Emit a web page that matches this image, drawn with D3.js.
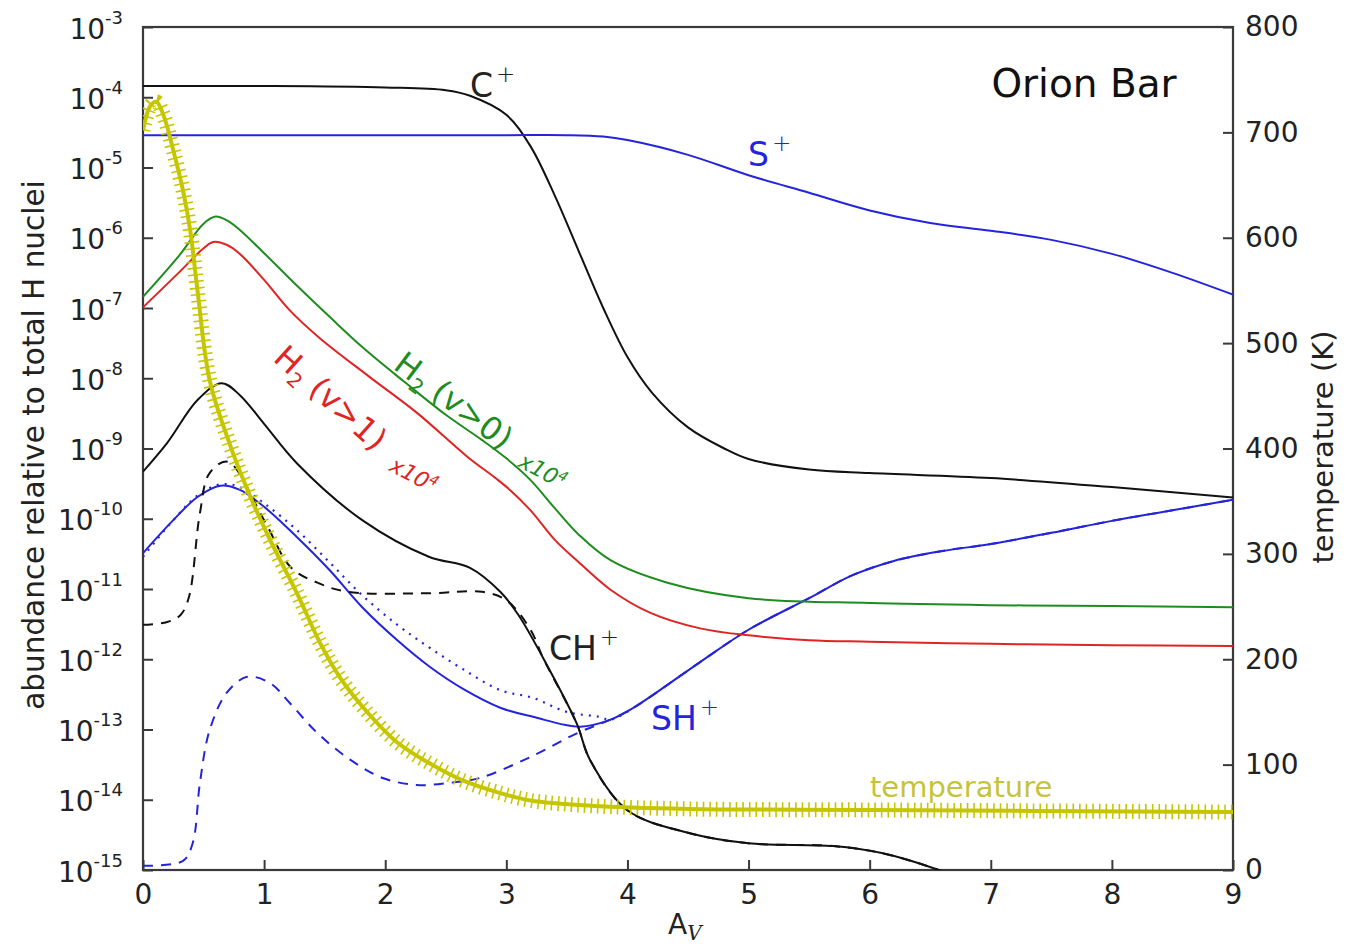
<!DOCTYPE html>
<html><head><meta charset="utf-8">
<script src="https://cdn.jsdelivr.net/npm/d3@7"></script>
<style>body{margin:0;background:#fff}text{font-family:"DejaVu Sans",sans-serif}</style>
</head><body>
<svg id="c" width="1352" height="944"></svg>
<script>
// ---- tick labels ----
const avTicks = [0,1,2,3,4,5,6,7,8,9];
const abundExp = [-15,-14,-13,-12,-11,-10,-9,-8,-7,-6,-5,-4,-3];
const tempTicks = [0,100,200,300,400,500,600,700,800];

// ---- C+ (black solid) ----
const cplusAv  = [0,1,2,2.5,2.7,3.0,3.2,3.4,3.6,3.8,4.0,4.2,4.5,4.8,5.0,5.5,6,7,8,9];
const cplusVal = [1.445e-4,1.445e-4,1.38e-4,1.26e-4,1.05e-4,5.62e-5,2.0e-5,3.98e-6,6.31e-7,1.0e-7,2.0e-8,6.31e-9,2.0e-9,1.0e-9,7.08e-10,5.01e-10,4.47e-10,3.80e-10,2.82e-10,2.0e-10];

// ---- S+ (blue solid) ----
const splusAv  = [0,1,2,3,3.5,3.8,4.0,4.5,5,5.5,6,6.5,7,7.5,8,8.5,9];
const splusVal = [2.884e-5,2.884e-5,2.884e-5,2.884e-5,2.884e-5,2.754e-5,2.455e-5,1.514e-5,7.76e-6,4.37e-6,2.45e-6,1.622e-6,1.259e-6,9.33e-7,5.89e-7,3.16e-7,1.549e-7];

// ---- H2 (v>0) x1e4 (green) ----
const h2v0Av  = [0,0.3,0.5,0.6,0.7,0.8,1.0,1.3,1.55,1.82,2.15,2.5,2.8,3.0,3.2,3.4,3.6,3.86,4.33,5,6,7,8,9];
const h2v0Val = [1.445e-7,5.62e-7,1.585e-6,2.0e-6,1.738e-6,1.288e-6,6.03e-7,1.862e-7,7.24e-8,2.69e-8,9.12e-9,3.02e-9,1.318e-9,7.24e-10,3.55e-10,1.413e-10,5.89e-11,2.57e-11,1.23e-11,7.41e-12,6.31e-12,5.89e-12,5.75e-12,5.50e-12];

// ---- H2 (v>1) x1e4 (red) ----
const h2v1Av  = [0,0.3,0.5,0.58,0.69,0.8,1.0,1.21,1.46,1.87,2.26,2.68,2.91,3.03,3.2,3.4,3.58,3.86,4.19,4.6,5,5.5,6,7,8,9];
const h2v1Val = [1.023e-7,3.24e-7,7.08e-7,8.71e-7,7.94e-7,5.89e-7,2.51e-7,9.33e-8,3.72e-8,1.047e-8,3.24e-9,7.59e-10,3.80e-10,2.57e-10,1.318e-10,5.01e-11,2.57e-11,9.77e-12,4.57e-12,2.75e-12,2.19e-12,1.862e-12,1.778e-12,1.66e-12,1.585e-12,1.549e-12];

// ---- CH+ (black solid) ----
const chAv  = [0,0.2,0.45,0.65,0.8,1.0,1.27,1.81,2.36,2.7,2.95,3.1,3.3,3.58,3.69,4.0,4.5,5,5.7,6.1,6.57,7];
const chVal = [4.68e-10,1.202e-9,4.90e-9,8.51e-9,5.75e-9,2.24e-9,6.17e-10,9.55e-11,2.88e-11,2.0e-11,9.12e-12,4.27e-12,1.072e-12,1.23e-13,3.72e-14,7.08e-15,3.39e-15,2.40e-15,2.19e-15,1.74e-15,1.0e-15,5.0e-16];

// ---- CH+ (black dashed) ----
const chDashAv  = [0,0.2,0.31,0.38,0.47,0.55,0.7,1.0,1.22,1.44,1.69,2.37,2.8,3.0,3.2,3.3,3.58,3.69,4.0,4.5,5,5.7,6.1,6.57,7];
const chDashVal = [3.09e-12,3.39e-12,4.27e-12,7.76e-12,1.202e-10,4.47e-10,6.46e-10,9.55e-11,2.04e-11,1.23e-11,9.12e-12,8.71e-12,9.12e-12,6.92e-12,2.63e-12,1.072e-12,1.23e-13,3.72e-14,7.08e-15,3.39e-15,2.40e-15,2.19e-15,1.74e-15,1.0e-15,5.0e-16];

// ---- SH+ (blue solid) ----
const shAv  = [0,0.25,0.45,0.64,0.8,1.0,1.27,1.54,1.81,2.1,2.37,2.65,2.95,3.22,3.61,3.86,4.05,4.6,5.0,5.5,5.85,6.2,6.6,7.0,7.5,8.0,8.5,9.0];
const shVal = [3.24e-11,9.55e-11,2.04e-10,2.95e-10,2.57e-10,1.479e-10,5.50e-11,1.862e-11,5.50e-12,1.862e-12,7.76e-13,3.72e-13,2.04e-13,1.514e-13,1.096e-13,1.38e-13,2.04e-13,9.12e-13,2.63e-12,7.41e-12,1.549e-11,2.51e-11,3.47e-11,4.37e-11,6.31e-11,9.33e-11,1.318e-10,1.862e-10];

// ---- SH+ (blue dotted) ----
const shDotAv  = [0,0.25,0.45,0.64,0.8,1.0,1.27,1.54,1.81,2.1,2.37,2.65,2.95,3.22,3.5,3.77,3.86,4.05];
const shDotVal = [2.88e-11,9.55e-11,2.14e-10,3.09e-10,2.82e-10,1.66e-10,6.92e-11,2.40e-11,8.13e-12,3.09e-12,1.445e-12,7.08e-13,3.63e-13,2.82e-13,1.778e-13,1.514e-13,1.38e-13,2.04e-13];

// ---- SH+ (blue dashed) ----
const shDashAv  = [0,0.33,0.41,0.47,0.55,0.69,0.86,1.05,1.21,1.44,1.71,1.98,2.26,2.53,2.78,3.2,3.6,3.86,4.05,4.6,5.0,5.5,5.85,6.2,6.6,7.0,7.5,8.0,8.5,9.0];
const shDashVal = [1.148e-15,1.349e-15,2.40e-15,1.738e-14,9.77e-14,3.31e-13,5.62e-13,4.57e-13,2.40e-13,8.91e-14,3.72e-14,2.04e-14,1.622e-14,1.738e-14,2.04e-14,4.07e-14,9.12e-14,1.38e-13,2.04e-13,9.12e-13,2.63e-12,7.41e-12,1.549e-11,2.51e-11,3.47e-11,4.37e-11,6.31e-11,9.33e-11,1.318e-10,1.862e-10];

// ---- temperature (K, right axis) ----
const tempAv  = [0,0.06,0.11,0.17,0.25,0.33,0.39,0.45,0.55,0.72,0.88,1.05,1.27,1.46,1.63,1.82,2.1,2.37,2.64,2.95,3.2,3.7,4.5,6,9];
const tempVal = [702,725,729,716,683,645,607,550,465,403,356,313,263,216,182,154,121,101,85,73,66,61,58,57,55];

const svg = d3.select("#c");
const L=143, R=1233, T=27, B=870;
const x  = d3.scaleLinear().domain([0,9]).range([L,R]);
const y  = d3.scaleLog().domain([1e-15,1e-3]).range([B,T]);
const yT = d3.scaleLinear().domain([0,800]).range([B,T]);

svg.append("defs").append("clipPath").attr("id","clip")
  .append("rect").attr("x",L).attr("y",T).attr("width",R-L).attr("height",B-T);

const axisCol = "#3a3a3a", fs = 28;

// left axis
const gl = svg.append("g").attr("transform",`translate(${L},0)`)
  .call(d3.axisLeft(y).tickValues(abundExp.map(e=>Math.pow(10,e))).tickSize(-10).tickFormat(()=>""));
gl.select(".domain").remove();
gl.selectAll(".tick line").attr("stroke",axisCol).attr("stroke-width",2);
gl.selectAll(".tick").each(function(d,i){
  const t = d3.select(this).append("text").attr("x",-20).attr("y",11).attr("fill","#222")
    .attr("text-anchor","end").style("font-size",fs+"px");
  t.append("tspan").text("10");
  t.append("tspan").attr("dy",-15).style("font-size","18px").text(String(abundExp[i]));
});

// right axis
const gr = svg.append("g").attr("transform",`translate(${R},0)`)
  .call(d3.axisRight(yT).tickValues(tempTicks).tickSize(-10).tickPadding(12));
gr.select(".domain").remove();
gr.selectAll(".tick line").attr("stroke",axisCol).attr("stroke-width",2);
gr.selectAll(".tick text").attr("fill","#222").style("font-size",fs+"px").attr("x",12);

// bottom axis
const gb = svg.append("g").attr("transform",`translate(0,${B})`)
  .call(d3.axisBottom(x).tickValues(avTicks).tickSize(-10).tickPadding(14).tickFormat(d3.format("d")));
gb.select(".domain").remove();
gb.selectAll(".tick line").attr("stroke",axisCol).attr("stroke-width",2);
gb.selectAll(".tick text").attr("fill","#222").style("font-size",fs+"px");

// frame
svg.append("rect").attr("x",L).attr("y",T).attr("width",R-L).attr("height",B-T)
  .attr("fill","none").attr("stroke",axisCol).attr("stroke-width",2.2);

// axis titles
svg.append("text").attr("transform","translate(44,445) rotate(-90)").attr("text-anchor","middle")
  .attr("fill","#222").style("font-size","29.5px").text("abundance relative to total H nuclei");
svg.append("text").attr("transform","translate(1333,447) rotate(-90)").attr("text-anchor","middle")
  .attr("fill","#222").style("font-size","29px").text("temperature (K)");
const ax = svg.append("text").attr("x",668).attr("y",934).attr("fill","#222").style("font-size","28px");
ax.append("tspan").text("A");
ax.append("tspan").attr("dy",6).style("font-size","20px").style("font-style","italic")
  .style("font-family","'DejaVu Serif',serif").text("V");

// curves
const plot = svg.append("g").attr("clip-path","url(#clip)");
const curve = d3.curveCatmullRom.alpha(0.5);
const line = d3.line().curve(curve).x(d=>x(d[0])).y(d=>y(d[1]));
const lineT = d3.line().curve(curve).x(d=>x(d[0])).y(d=>yT(d[1]));
const zip = (a,b)=>a.map((v,i)=>[v,b[i]]);

function draw(av,val,color,dash,w){
  plot.append("path").datum(zip(av,val)).attr("d",line).attr("fill","none")
    .attr("stroke",color).attr("stroke-width",w||2).attr("stroke-dasharray",dash||null);
}
const blue="#2424dc", black="#111", green="#1f8c1f", red="#e02424", yel="#c6c600";

draw(shDashAv,shDashVal,blue,"10 8");
draw(shDotAv,shDotVal,blue,"2 6",2.2);
draw(shAv,shVal,blue);
draw(chDashAv,chDashVal,black,"10 8");
draw(chAv,chVal,black);
draw(cplusAv,cplusVal,black);
draw(splusAv,splusVal,blue);
draw(h2v1Av,h2v1Val,red);
draw(h2v0Av,h2v0Val,green);

// temperature drawn with '+' point-marker look
const tdata = zip(tempAv,tempVal);
plot.append("path").datum(tdata).attr("d",lineT).attr("fill","none")
  .attr("stroke",yel).attr("stroke-width",4);
plot.append("path").datum(tdata).attr("d",lineT).attr("fill","none")
  .attr("stroke",yel).attr("stroke-width",15).attr("stroke-dasharray","1.6 5");

// labels
function lab(xp,yp,main,sup,color,size){
  const t = svg.append("text").attr("x",xp).attr("y",yp).attr("fill",color).style("font-size",size+"px");
  t.append("tspan").text(main);
  if(sup){ t.append("tspan").attr("dx",3).attr("dy",-size*0.45).style("font-size",(size*0.7)+"px").style("font-weight","300").text(sup); }
  return t;
}
lab(470,97,"C","+","#222",33);
lab(748,166,"S","+",blue,33);
lab(549,660,"CH","+","#222",33);
lab(651,730,"SH","+",blue,33);
svg.append("text").attr("x",870).attr("y",797).attr("fill","#c4c43a").style("font-size","29px").text("temperature");
svg.append("text").attr("x",1084).attr("y",97).attr("text-anchor","middle").attr("fill","#111").style("font-size","39px").text("Orion Bar");

function h2lab(xp,yp,ang,num,color){
  const t = svg.append("text").attr("transform",`translate(${xp},${yp}) rotate(${ang})`)
    .attr("fill",color).style("font-size","32px");
  t.append("tspan").text("H");
  t.append("tspan").attr("dy",7).style("font-size","20px").text("2");
  t.append("tspan").attr("dy",-7).text(" (v>"+num+")");
}
function xlab(xp,yp,ang,color){
  const t = svg.append("text").attr("transform",`translate(${xp},${yp}) rotate(${ang})`)
    .attr("fill",color).style("font-size","22px").style("font-style","italic");
  t.append("tspan").text("x10");
  t.append("tspan").attr("dy",-8).style("font-size","14px").text("4");
}
h2lab(272,360,42,"1",red);
xlab(388,470,28,red);
h2lab(392,368,37,"0",green);
xlab(517,466,28,green);
</script>
</body></html>
